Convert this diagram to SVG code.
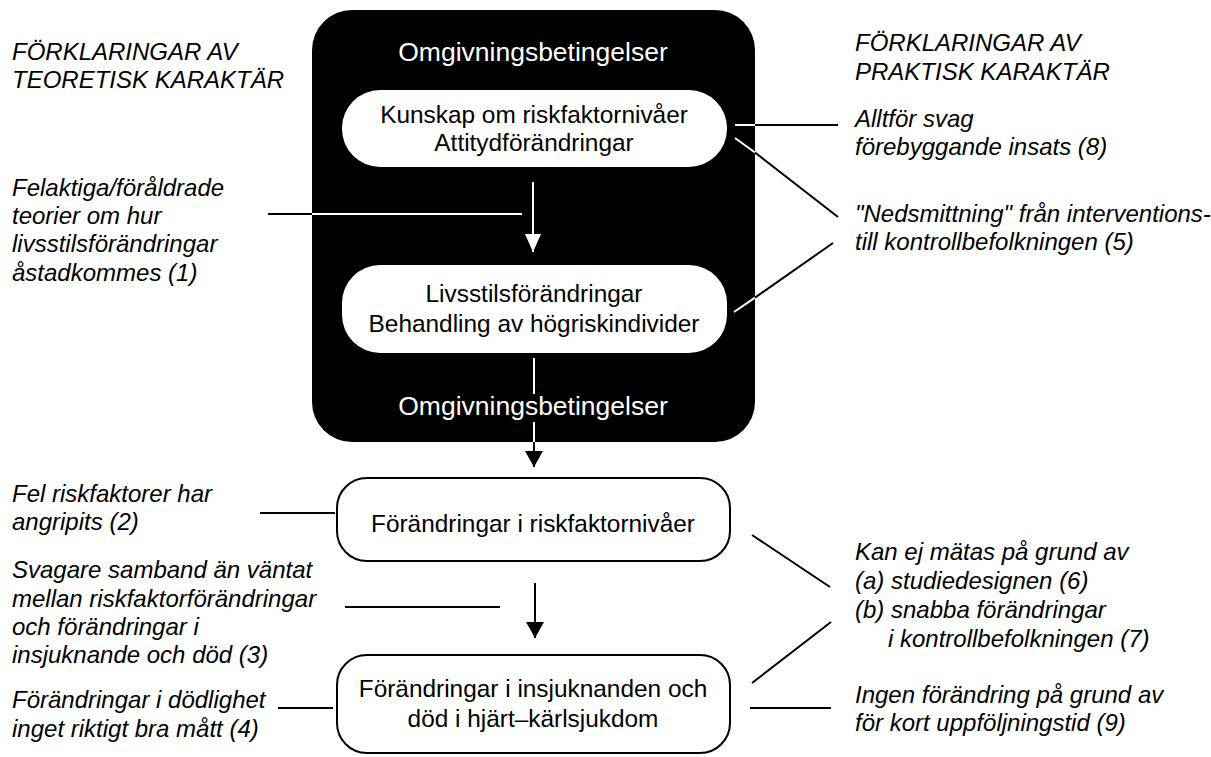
<svg xmlns="http://www.w3.org/2000/svg" width="1211" height="757" viewBox="0 0 1211 757">
  <style>
    .note { font-family: "Liberation Sans", Arial, sans-serif; font-style: italic; font-size: 24px; fill: #000; }
    .box-label { font-family: "Liberation Sans", Arial, sans-serif; font-size: 24.4px; fill: #000; text-anchor: middle; }
    .env-label { font-family: "Liberation Sans", Arial, sans-serif; font-size: 26.5px; fill: #fff; text-anchor: middle; }
    .inner-box { fill: #fff; stroke: none; }
    .outer-box { fill: #fff; stroke: #000; stroke-width: 2; }
    .link { stroke: #000; stroke-width: 2; fill: none; }
    .link-white { stroke: #fff; stroke-width: 2; fill: none; }
  </style>
  <defs>
    <marker id="head-white" viewBox="0 0 18 16" refX="18" refY="8" markerWidth="18" markerHeight="16" markerUnits="userSpaceOnUse" orient="auto">
      <path d="M0,0 L18,8 L0,16 Z" fill="#fff"/>
    </marker>
    <marker id="head-black" viewBox="0 0 16 18" refX="16" refY="9" markerWidth="16" markerHeight="18" markerUnits="userSpaceOnUse" orient="auto">
      <path d="M0,0 L16,9 L0,18 Z" fill="#000"/>
    </marker>
  </defs>

  <rect width="1211" height="757" fill="#fff"/>

  <!-- environment frame with the two intervention steps -->
  <g id="environment">
    <rect x="312" y="10" width="443" height="432" rx="40" ry="40" fill="#000"/>
    <text class="env-label" x="533" y="61">Omgivningsbetingelser</text>
    <text class="env-label" x="533" y="415">Omgivningsbetingelser</text>
  </g>

  <g id="node-knowledge">
    <rect class="inner-box" x="342" y="90" width="385" height="77" rx="38" ry="38"/>
    <text class="box-label" x="534" y="123">Kunskap om riskfaktornivåer</text>
    <text class="box-label" x="534" y="151">Attitydförändringar</text>
  </g>

  <g id="node-lifestyle">
    <rect class="inner-box" x="342" y="265" width="385" height="88" rx="38" ry="38"/>
    <text class="box-label" x="534" y="302">Livsstilsförändringar</text>
    <text class="box-label" x="534" y="332">Behandling av högriskindivider</text>
  </g>

  <g id="node-riskfactors">
    <rect class="outer-box" x="337" y="478" width="393" height="83" rx="30" ry="30"/>
    <text class="box-label" x="533" y="532">Förändringar i riskfaktornivåer</text>
  </g>

  <g id="node-outcome">
    <rect class="outer-box" x="337" y="655" width="393" height="98" rx="30" ry="30"/>
    <text class="box-label" x="533" y="697">Förändringar i insjuknanden och</text>
    <text class="box-label" x="533" y="727">död i hjärt–kärlsjukdom</text>
  </g>

  <!-- explanation labels, theoretical side -->
  <g id="header-theory">
    <text class="note" x="12" y="60">FÖRKLARINGAR AV</text>
    <text class="note" x="12" y="88">TEORETISK KARAKTÄR</text>
  </g>
  <g id="note-1">
    <text class="note" x="12" y="196">Felaktiga/föråldrade</text>
    <text class="note" x="12" y="224">teorier om hur</text>
    <text class="note" x="12" y="252">livsstilsförändringar</text>
    <text class="note" x="12" y="281">åstadkommes (1)</text>
  </g>
  <g id="note-2">
    <text class="note" x="12" y="502">Fel riskfaktorer har</text>
    <text class="note" x="12" y="530">angripits (2)</text>
  </g>
  <g id="note-3">
    <text class="note" x="12" y="578">Svagare samband än väntat</text>
    <text class="note" x="12" y="607">mellan riskfaktorförändringar</text>
    <text class="note" x="12" y="635">och förändringar i</text>
    <text class="note" x="12" y="663">insjuknande och död (3)</text>
  </g>
  <g id="note-4">
    <text class="note" x="12" y="708">Förändringar i dödlighet</text>
    <text class="note" x="12" y="737">inget riktigt bra mått (4)</text>
  </g>

  <!-- explanation labels, practical side -->
  <g id="header-practice">
    <text class="note" x="855" y="51">FÖRKLARINGAR AV</text>
    <text class="note" x="855" y="80">PRAKTISK KARAKTÄR</text>
  </g>
  <g id="note-8">
    <text class="note" x="855" y="127">Alltför svag</text>
    <text class="note" x="855" y="155">förebyggande insats (8)</text>
  </g>
  <g id="note-5">
    <text class="note" x="855" y="222">"Nedsmittning" från interventions-</text>
    <text class="note" x="855" y="250">till kontrollbefolkningen (5)</text>
  </g>
  <g id="note-6-7">
    <text class="note" x="855" y="560">Kan ej mätas på grund av</text>
    <text class="note" x="855" y="589">(a) studiedesignen (6)</text>
    <text class="note" x="855" y="618">(b) snabba förändringar</text>
    <text class="note" x="888" y="647">i kontrollbefolkningen (7)</text>
  </g>
  <g id="note-9">
    <text class="note" x="855" y="703">Ingen förändring på grund av</text>
    <text class="note" x="855" y="731">för kort uppföljningstid (9)</text>
  </g>

  <!-- connectors -->
  <g id="connectors">
    <!-- flow arrows -->
    <line class="link-white" x1="533" y1="182" x2="533" y2="252" marker-end="url(#head-white)"/>
    <line class="link-white" x1="534" y1="358" x2="534" y2="394"/>
    <line class="link-white" x1="534" y1="422" x2="534" y2="442"/>
    <line class="link" x1="534" y1="442" x2="534" y2="467" marker-end="url(#head-black)"/>
    <line class="link" x1="535" y1="583" x2="535" y2="638" marker-end="url(#head-black)"/>

    <!-- theory pointers -->
    <line class="link" x1="268" y1="214" x2="312" y2="214"/>
    <line class="link-white" x1="312" y1="214" x2="522" y2="214"/>
    <line class="link" x1="260" y1="513" x2="335" y2="513"/>
    <line class="link" x1="345" y1="607" x2="500" y2="607"/>
    <line class="link" x1="278" y1="708" x2="333" y2="708"/>

    <!-- practice pointers -->
    <line class="link-white" x1="735" y1="125" x2="755" y2="125"/>
    <line class="link" x1="755" y1="125" x2="838" y2="125"/>
    <line class="link-white" x1="735" y1="138" x2="755" y2="152.5"/>
    <line class="link" x1="755" y1="152.5" x2="838" y2="217"/>
    <line class="link-white" x1="734" y1="312" x2="755" y2="297.6"/>
    <line class="link" x1="755" y1="297.6" x2="833" y2="243"/>
    <line class="link" x1="752" y1="535" x2="830" y2="587"/>
    <line class="link" x1="752" y1="683" x2="831" y2="622"/>
    <line class="link" x1="750" y1="708" x2="831" y2="708"/>
  </g>
</svg>
